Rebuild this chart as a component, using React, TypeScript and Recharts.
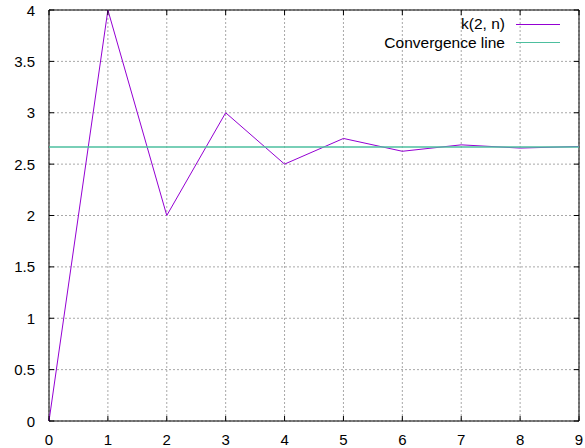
import { LineChart, Line, XAxis, YAxis, CartesianGrid, ReferenceArea } from "recharts";

// k(2, n) for n = 0..9, converging towards 8/3
const nValues = [0, 1, 2, 3, 4, 5, 6, 7, 8, 9];
const kValues = [0, 4, 2, 3, 2.5, 2.75, 2.625, 2.6875, 2.65625, 2.671875];
const convValues = [2.6667, 2.6667, 2.6667, 2.6667, 2.6667, 2.6667, 2.6667, 2.6667, 2.6667, 2.6667];

const xTicks = [0, 1, 2, 3, 4, 5, 6, 7, 8, 9];
const yTicks = [0, 0.5, 1, 1.5, 2, 2.5, 3, 3.5, 4];

const seriesNames = ["k(2, n)", "Convergence line"];
const seriesColors = ["#9400d3", "#4dbf9f"];

const W = 585;
const H = 448;
const MARGIN = { top: 10, right: 6, left: 0, bottom: 0 };
const PLOT_TOP = MARGIN.top;
const PLOT_RIGHT = W - MARGIN.right;
const TICK = 5;
const FONT = "'Liberation Sans', Arial, sans-serif";

const data = nValues.map((n, i) => ({ n, k: kValues[i], conv: convValues[i] }));

function XTick({ x, y, payload }: any) {
  return (
    <g>
      <line x1={x} x2={x} y1={y} y2={y - TICK} stroke="#000" />
      <line x1={x} x2={x} y1={PLOT_TOP} y2={PLOT_TOP + TICK} stroke="#000" />
      <text x={x} y={y + 24} textAnchor="middle" fontSize={15} fontFamily={FONT} fill="#000">
        {payload.value}
      </text>
    </g>
  );
}

function YTick({ x, y, payload }: any) {
  return (
    <g>
      <line x1={x} x2={x + TICK} y1={y} y2={y} stroke="#000" />
      <line x1={PLOT_RIGHT - TICK} x2={PLOT_RIGHT} y1={y} y2={y} stroke="#000" />
      <text x={x - 14} y={y + 5.5} textAnchor="end" fontSize={15} fontFamily={FONT} fill="#000">
        {payload.value}
      </text>
    </g>
  );
}

export default function App() {
  return (
    <div style={{ position: "absolute", left: 0, top: 0, width: W, height: H, background: "#fff" }}>
      <LineChart width={W} height={H} data={data} margin={MARGIN}>
        <CartesianGrid stroke="#a8a8a8" strokeDasharray="2 2" />
        <XAxis
          dataKey="n"
          type="number"
          domain={[0, 9]}
          ticks={xTicks}
          interval={0}
          height={27}
          axisLine={false}
          tickLine={false}
          tickSize={0}
          tickMargin={0}
          tick={<XTick />}
        />
        <YAxis
          type="number"
          domain={[0, 4]}
          ticks={yTicks}
          interval={0}
          width={49}
          axisLine={false}
          tickLine={false}
          tickSize={0}
          tickMargin={0}
          tick={<YTick />}
        />
        <ReferenceArea x1={0} x2={9} y1={0} y2={4} fill="none" stroke="#000" strokeWidth={1} />
        <Line
          type="linear"
          dataKey="k"
          stroke={seriesColors[0]}
          strokeWidth={1}
          dot={false}
          isAnimationActive={false}
        />
        <Line
          type="linear"
          dataKey="conv"
          stroke={seriesColors[1]}
          strokeWidth={1.3}
          dot={false}
          isAnimationActive={false}
        />
      </LineChart>
      <div style={{ position: "absolute", top: 15, right: W - 560, fontFamily: FONT, fontSize: 15.5 }}>
        {seriesNames.map((name, i) => (
          <div
            key={name}
            style={{ display: "flex", alignItems: "center", justifyContent: "flex-end", height: 18.4, gap: 11 }}
          >
            <span>{name}</span>
            <span style={{ width: 44, borderTop: `1.5px solid ${seriesColors[i]}` }} />
          </div>
        ))}
      </div>
    </div>
  );
}
